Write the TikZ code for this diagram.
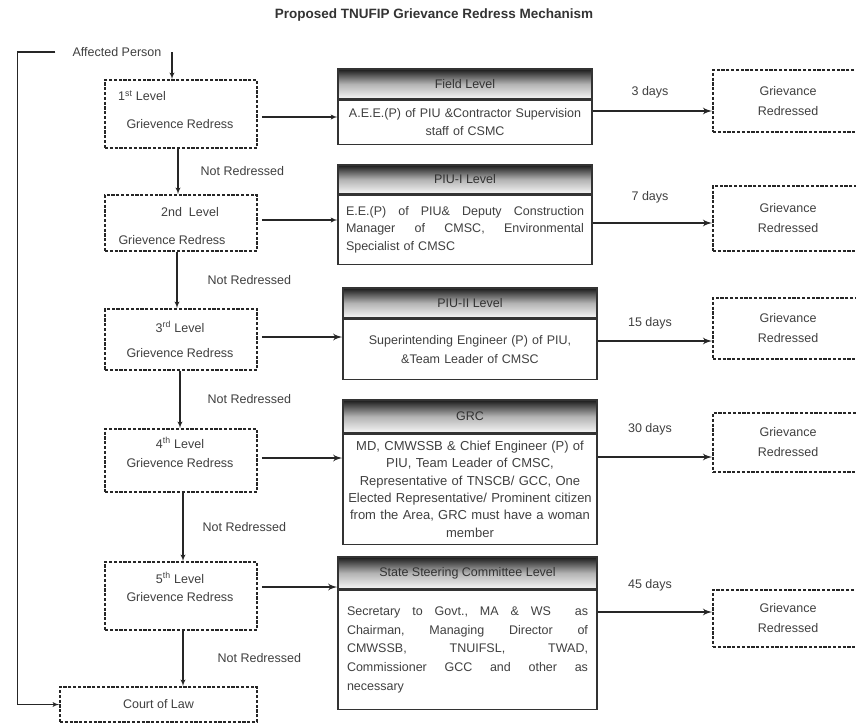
\documentclass[tikz,border=0pt]{standalone}
\usepackage{fontspec}
\setmainfont{Liberation Sans}
\usepackage{tikz}
\usetikzlibrary{arrows}
\usetikzlibrary{positioning}

\newcommand{\txtfont}{\fontsize{12.5}{15}\selectfont}
\newcommand{\jline}[2][238pt]{\makebox[#1][s]{#2}}

\tikzset{
  dbox/.style={draw=black!85, line width=1.6pt, dash pattern=on 3.2pt off 1.6pt, minimum width=152pt},
  txt/.style={text=black!75, font=\txtfont, inner sep=2pt},
  headbox/.style={draw=black!80, line width=1.2pt, top color=black!90, bottom color=black!3, middle color=black!30, text=black!80, font=\txtfont, minimum width=254pt},
  bodybox/.style={draw=black!80, line width=1.2pt, fill=white, text=black!75, font=\txtfont, inner xsep=8pt, text width=238pt},
  arr/.style={-latex', line width=1.3pt, black!85},
  bigarr/.style={-latex', line width=2.2pt, black!85},
}

\begin{document}
\begin{tikzpicture}[x=1pt, y=-1pt]
  \useasboundingbox (0,0) rectangle (856,726);
  \fill[white] (0,0) rectangle (856,726);
  \clip (0,0) rectangle (856,726);

  \node[font=\fontsize{13.5}{16}\selectfont\bfseries, text=black!80] (title) at (434,15) {Proposed TNUFIP Grievance Redress Mechanism};
  \node[txt] (affp) at (117,52) {Affected Person};

  \foreach \k/\cy/\h/\la/\lax/\lay/\lbx/\lby in {
    1/114/68/{1\textsuperscript{st} Level}/142/96/180/124,
    2/223/56/{2nd\ \ Level}/190/212/172/240,
    3/339.5/61/{3\textsuperscript{rd} Level}/180/327/180/353,
    4/460.5/63/{4\textsuperscript{th} Level}/180/443/180/463,
    5/596/68/{5\textsuperscript{th} Level}/180/578/180/597}{
    \node[dbox, minimum height=\h pt] (lvl\k) at (181,\cy) {};
    \node[txt] (lvl\k a) at (\lax,\lay) {\la};
    \node[txt] (lvl\k b) at (\lbx,\lby) {Grievence Redress};
  }
  \node[dbox, txt, minimum width=197pt, minimum height=35pt] (court) at (158.5,704.5) {Court of Law};

  \node[headbox, minimum height=30pt] (fldhead) at (465,84) {Field Level};
  \node[bodybox, align=center, minimum height=44pt, font=\fontsize{12.5}{18}\selectfont, below=0pt of fldhead] (fldbody)
    {A.E.E.(P) of PIU \&Contractor Supervision\\staff of CSMC};

  \node[headbox, minimum height=29pt] (piuhead) at (465,179.5) {PIU-I Level};
  \node[bodybox, align=left, minimum height=69pt, font=\fontsize{12.5}{17.5}\selectfont, below=0pt of piuhead] (piubody)
    {\jline{E.E.(P)\hfill of\hfill PIU\&\hfill Deputy\hfill Construction}\\
     \jline{Manager\hfill of\hfill CMSC,\hfill Environmental}\\
     Specialist of CMSC};

  \node[headbox, minimum height=30pt] (piuiihead) at (470,303) {PIU-II Level};
  \node[bodybox, align=center, minimum height=60pt, font=\fontsize{12.5}{19}\selectfont, below=0pt of piuiihead] (piuiibody)
    {Superintending Engineer (P) of PIU,\\\&Team Leader of CMSC};

  \node[headbox, minimum height=33pt] (grchead) at (470,416.5) {GRC};
  \node[bodybox, align=center, minimum height=110pt, inner xsep=5pt, text width=244pt, font=\fontsize{13}{17.4}\selectfont, below=0pt of grchead] (grcbody)
    {MD, CMWSSB \& Chief Engineer (P) of\\PIU, Team Leader of CMSC,\\Representative of TNSCB/ GCC, One\\Elected Representative/ Prominent citizen\\from the Area, GRC must have a woman\\member};

  \node[headbox, minimum width=259pt, minimum height=32pt] (ssshead) at (467.5,573) {State Steering Committee Level};
  \node[bodybox, align=left, minimum height=119pt, inner xsep=9pt, text width=241pt, font=\fontsize{12.5}{18.75}\selectfont, below=0pt of ssshead] (sscbody)
    {\jline[241pt]{Secretary\hfill to\hfill Govt.,\hfill MA\hfill \&\hfill WS\hfill\hfill as}\\
     \jline[241pt]{Chairman,\hfill Managing\hfill Director\hfill of}\\
     \jline[241pt]{CMWSSB,\hfill TNUIFSL,\hfill TWAD,}\\
     \jline[241pt]{Commissioner\hfill GCC\hfill and\hfill other\hfill as}\\
     necessary};

  \foreach \k/\gy/\gh in {1/101/62, 2/218.5/65, 3/328.5/61, 4/442.5/59, 5/618.5/57}
    \node[dbox, txt, align=center, minimum width=150pt, minimum height=\gh pt] (gr\k) at (788,\gy) {Grievance\\[5pt]Redressed};

  \foreach \src/\k/\y/\dd/\dy in {fldbody/1/111/3/92, piubody/2/223/7/197, piuiibody/3/341/15/323, grcbody/4/457/30/429, sscbody/5/612/45/585}{
    \draw[bigarr] (\src.east |- 0,\y) -- (gr\k.west |- 0,\y);
    \node[txt] (days\k) at (650,\dy) {{\dd} days};
  }

  \foreach \a/\b/\y/\s in {lvl1/fldbody/117/arr, lvl2/piubody/220/arr, lvl3/piuiibody/337/bigarr, lvl4/grcbody/458/bigarr, lvl5/sscbody/587/bigarr}
    \draw[\s, shorten <=4pt] (\a.east |- 0,\y) -- (\b.west |- 0,\y);

  \foreach \a/\b/\x/\off in {lvl1/lvl2/178/20, lvl2/lvl3/177/28, lvl3/lvl4/180/25, lvl4/lvl5/183/17, lvl5/court/183/32}
    \draw[arr] (\a.south -| \x,0) -- (\b.north -| \x,0) node[txt, midway, right=\off pt] (nr\a) {Not Redressed};

  \draw[arr] (affp.east -| 172,0) -- (lvl1.north -| 172,0);
  \draw[arr] ([xshift=-15pt]affp.west) -- ++(-38,0) |- (court.west);
\end{tikzpicture}
\end{document}
